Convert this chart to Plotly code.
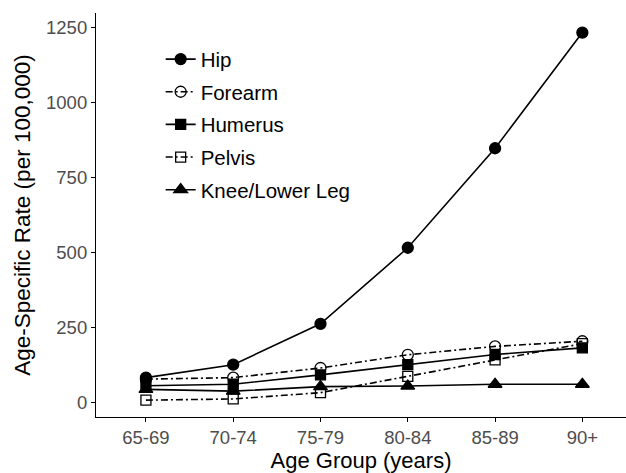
import plotly.graph_objects as go

age_groups = ["65-69", "70-74", "75-79", "80-84", "85-89", "90+"]
hip = [84, 127, 263, 516, 847, 1232]
forearm = [79, 84, 116, 160, 188, 205]
humerus = [57, 62, 93, 127, 161, 183]
pelvis = [9, 13, 34, 88, 143, 197]
knee = [45, 39, 54, 56, 62, 62]

series = [
    ("Hip", hip, "circle", "solid", 11),
    ("Forearm", forearm, "circle-open", "7px,3px,2px,3px", 11),
    ("Humerus", humerus, "square", "solid", 10),
    ("Pelvis", pelvis, "square-open", "7px,3px,2px,3px", 10),
    ("Knee/Lower Leg", knee, "triangle-up", "solid", 12),
]

fig = go.Figure()
for name, vals, sym, dash, size in series:
    fig.add_trace(go.Scatter(
        x=age_groups, y=vals, name=name, mode="lines+markers",
        legendgroup=name,
        line=dict(color="black", width=1.6, dash=dash),
        marker=dict(symbol=sym, size=size, color="black",
                    line=dict(color="black", width=1.3)),
    ))

axis_common = dict(
    showline=True, linecolor="black", linewidth=1.2,
    ticks="outside", ticklen=4, tickcolor="black", tickwidth=1.1,
    showgrid=False, zeroline=False,
    tickfont=dict(size=18.5, color="#4d4d4d", family="Liberation Sans, Arial"),
)

fig.update_layout(
    width=626, height=473,
    margin=dict(l=96, r=0, t=13, b=56),
    plot_bgcolor="white", paper_bgcolor="white",
    font=dict(family="Liberation Sans, Arial", color="black"),
    xaxis=dict(axis_common, range=[-0.572, 5.5],
               title=dict(text="Age Group (years)", font=dict(size=22), standoff=1)),
    yaxis=dict(axis_common, range=[-47, 1297], tickvals=[0, 250, 500, 750, 1000, 1250],
               title=dict(text="Age-Specific Rate (per 100,000)", font=dict(size=22.5), standoff=9)),
    legend=dict(x=0.122, y=0.935, xanchor="left", yanchor="top",
                font=dict(size=20.5, color="black"), bgcolor="rgba(0,0,0,0)",
                itemwidth=30, tracegroupgap=3),
    showlegend=True,
)

fig.write_html("out.html")
